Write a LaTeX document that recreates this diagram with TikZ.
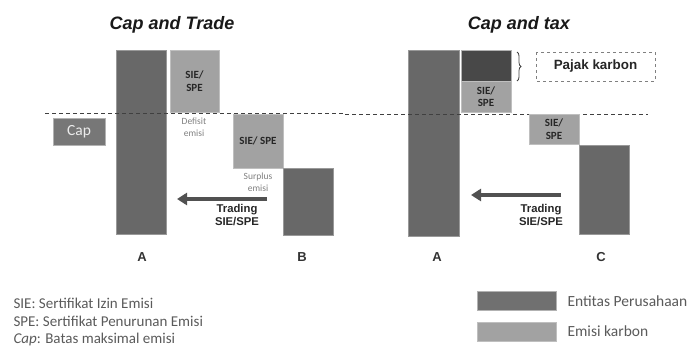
\documentclass[tikz,border=0pt]{standalone}
\usepackage{fontspec}
\setmainfont{Carlito}
\newfontfamily\headfont{Liberation Sans}
\usetikzlibrary{arrows.meta,decorations.pathreplacing}

\definecolor{firmgray}{RGB}{104,104,104}
\definecolor{emisgray}{RGB}{162,162,162}
\definecolor{taxgray}{RGB}{72,72,72}
\definecolor{textgray}{RGB}{90,90,90}

\tikzset{
  firm/.style={fill=firmgray,draw=gray!80,line width=0.6pt},
  emis/.style={fill=emisgray,draw=gray!50,line width=0.6pt},
  boxtext/.style={font=\bfseries\fontsize{11}{12.5}\selectfont,text=black!85,align=center},
  title/.style={font=\headfont\bfseries\itshape\fontsize{18}{20}\selectfont,text=black!90},
  firmname/.style={font=\headfont\bfseries\fontsize{13}{15}\selectfont,text=black!80},
  trade/.style={font=\headfont\bfseries\fontsize{11.3}{13.5}\selectfont,align=center,text=black!85},
  small/.style={font=\fontsize{9.5}{12.5}\selectfont,text=gray,align=center},
  legend/.style={font=\fontsize{15}{17}\selectfont,text=textgray,anchor=west},
  caplevel/.style={dashed,line width=0.9pt,black!75,dash pattern=on 4pt off 3pt},
  tradearrow/.style={line width=3.8pt,taxgray!95,-{Triangle[length=10pt,width=12pt]}}
}

\begin{document}
\begin{tikzpicture}[x=1pt,y=-1pt]
\useasboundingbox (0,0) rectangle (691,349);

% cap and trade
\node[title] (titleA) at (172,25) {Cap and Trade};

\filldraw[firm] (116,50) rectangle (166,234);
\filldraw[emis] (170,50) rectangle (219,112);
\node[boxtext] (permitA) at (194.5,81) {SIE/\\SPE};

\filldraw[fill=firmgray!90,draw=gray!60] (53,118) rectangle (105,145);
\node[font=\fontsize{15.5}{17}\selectfont,text=white!85!gray] (cap) at (79,131.5) {Cap};

\node[small] (deficit) at (194,127) {Defisit\\emisi};

\filldraw[emis] (233,114) rectangle (283,168);
\node[boxtext] (permitB) at (258,141) {SIE/ SPE};
\filldraw[firm] (283,168) rectangle (333,235);
\node[small] (surplus) at (258,182) {Surplus\\emisi};

\draw[caplevel] (45,113) -- (345,113);

\coordinate (fromB) at (267,199);
\coordinate (toA) at (177,199);
\draw[tradearrow] (fromB) -- (toA);
\node[trade] (tradeB) at (237,215) {Trading\\SIE/SPE};

\node[firmname] (labA) at (142,257) {A};
\node[firmname] (labB) at (302,257) {B};

% cap and tax
\node[title] (titleB) at (519,25) {Cap and tax};

\filldraw[firm] (408,50) rectangle (459,236);
\filldraw[fill=taxgray,draw=gray!60,line width=0.6pt] (461,50) rectangle (511,81);
\filldraw[emis] (461,81) rectangle (511,112);
\node[boxtext] (permitC) at (486,96.5) {SIE/\\SPE};

\draw[decorate,decoration={brace,amplitude=4pt},line width=0.8pt,black!75] (517,52) -- (517,81);
\draw[dashed,gray,line width=0.6pt] (536,52) rectangle (655,81);
\node[font=\headfont\bfseries\fontsize{13.4}{15}\selectfont,text=black!85] (tax) at (595.5,66.5) {Pajak karbon};

\draw[caplevel] (345,114) -- (648,114);

\filldraw[emis] (529,114) rectangle (579,144);
\node[boxtext] (permitD) at (554,129) {SIE/\\SPE};
\filldraw[firm] (579,145) rectangle (629,234);

\coordinate (fromC) at (561,195);
\coordinate (toA2) at (471,195);
\draw[tradearrow] (fromC) -- (toA2);
\node[trade] (tradeC) at (541,215) {Trading\\SIE/SPE};

\node[firmname] (labA2) at (437,257) {A};
\node[firmname] (labC) at (601,257) {C};

% keterangan
\node[legend] (keySIE) at (10,303) {SIE: Sertifikat Izin Emisi};
\node[legend] (keySPE) at (10,321) {SPE: Sertifikat Penurunan Emisi};
\node[legend] (keyCap) at (10,339) {\textit{Cap}: Batas maksimal emisi};

\filldraw[fill=firmgray!95,draw=gray!60] (477,291) rectangle (556,310);
\node[legend,font=\fontsize{15.5}{18}\selectfont] (keyFirm) at (564,301) {Entitas Perusahaan};
\filldraw[emis] (477,322) rectangle (556,341);
\node[legend,font=\fontsize{15.5}{18}\selectfont] (keyEmis) at (564,331) {Emisi karbon};

\end{tikzpicture}
\end{document}
